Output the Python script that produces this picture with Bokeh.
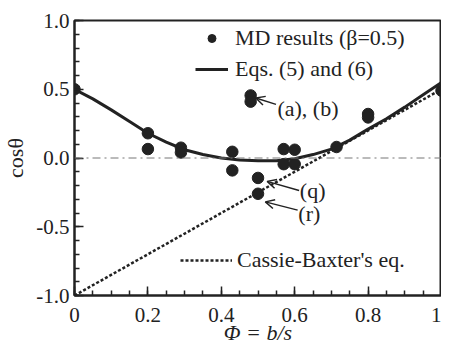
from bokeh.plotting import figure
from bokeh.models import (ColumnDataSource, Legend, LegendItem, FixedTicker, NumeralTickFormatter,
                          Span, Arrow, OpenHead)
from bokeh.core.properties import value
from bokeh.embed import file_html
from bokeh.resources import INLINE

# MD results (beta = 0.5)
md_x = [0.0, 0.2, 0.2, 0.29, 0.29, 0.43, 0.43, 0.48, 0.48, 0.5, 0.5,
        0.57, 0.57, 0.6, 0.6, 0.714, 0.8, 0.8, 1.0]
md_y = [0.50, 0.18, 0.065, 0.075, 0.04, 0.045, -0.09, 0.455, 0.41, -0.145, -0.26,
        0.065, -0.045, 0.06, -0.045, 0.08, 0.32, 0.295, 0.49]

# Eqs. (5) and (6)
eq_x = [0.0, 0.05, 0.1, 0.15, 0.2, 0.25, 0.3, 0.35, 0.4, 0.45, 0.5,
        0.55, 0.6, 0.65, 0.7, 0.75, 0.8, 0.85, 0.9, 0.95, 1.0]
eq_y = [0.50, 0.43, 0.35, 0.265, 0.18, 0.115, 0.06, 0.025, 0.0, -0.015, -0.02,
        -0.02, -0.005, 0.025, 0.065, 0.13, 0.21, 0.285, 0.37, 0.46, 0.55]

# Cassie-Baxter's eq.
cb_x = [0.0, 1.0]
cb_y = [-1.0, 0.5]

# annotations
ann_text = ["(a), (b)", "(q)", "(r)"]
ann_tx = [0.553, 0.614, 0.61]
ann_ty = [0.36, -0.235, -0.405]
arr_x0 = [0.549, 0.612, 0.608]
arr_y0 = [0.39, -0.237, -0.379]
arr_x1 = [0.494, 0.525, 0.520]
arr_y1 = [0.437, -0.170, -0.319]

x_ticks = [0, 0.2, 0.4, 0.6, 0.8, 1]
y_ticks = [-1.0, -0.5, 0.0, 0.5, 1.0]

FONT = "Liberation Serif"
INK = "#222222"

p = figure(width=441, height=347, x_range=(0, 1), y_range=(-1, 1),
           output_backend="svg", toolbar_location=None,
           min_border_left=72, min_border_right=0, min_border_top=20, min_border_bottom=10)
p.grid.visible = False
p.outline_line_color = INK
p.outline_line_width = 2
p.background_fill_color = "white"
p.border_fill_color = "white"

zero = Span(location=0, dimension="width", line_color="#777777", line_width=1,
            line_dash="8 4 2 4")
p.add_layout(zero)

cb = p.line(cb_x, cb_y, line_color=INK, line_width=2.5, line_dash="3 2")
eq = p.line(eq_x, eq_y, line_color=INK, line_width=3)
md = p.scatter(md_x, md_y, size=11.5, fill_color=INK, line_color=INK)

src = ColumnDataSource(dict(x0=arr_x0, y0=arr_y0, x1=arr_x1, y1=arr_y1))
p.add_layout(Arrow(end=OpenHead(size=9, line_width=1.5, line_color=INK),
                   x_start="x0", y_start="y0", x_end="x1", y_end="y1",
                   source=src, line_width=1.5, line_color=INK))
p.text(ann_tx, ann_ty, text=ann_text, text_font=value(FONT), text_font_size="22px",
       text_baseline="middle", text_align="left", text_color=INK)

for ax in (p.xaxis[0], p.yaxis[0]):
    ax.axis_line_width = 2
    ax.axis_line_color = INK
    ax.major_tick_line_color = INK
    ax.minor_tick_line_color = INK
    ax.major_tick_line_width = 1.5
    ax.minor_tick_line_width = 1.5
    ax.major_tick_in = 9
    ax.major_tick_out = 0
    ax.minor_tick_in = 5
    ax.minor_tick_out = 0
    ax.major_label_text_font = FONT
    ax.major_label_text_font_size = "21px"
    ax.major_label_text_color = INK
    ax.axis_label_text_font = FONT
    ax.axis_label_text_font_size = "22px"
    ax.axis_label_text_color = INK

p.xaxis.ticker = FixedTicker(ticks=x_ticks, minor_ticks=[i * 0.05 for i in range(21)])
p.xaxis.formatter = NumeralTickFormatter(format="0.0")
p.xaxis.major_label_overrides = {0: "0", 1: "1"}
p.xaxis.axis_label = "Φ = b/s"
p.xaxis.axis_label_text_font_style = "italic"
p.xaxis.major_label_standoff = 12
p.xaxis.axis_label_standoff = -5

p.yaxis.ticker = FixedTicker(ticks=y_ticks, minor_ticks=[i * 0.1 - 1 for i in range(21)])
p.yaxis.formatter = NumeralTickFormatter(format="0.0")
p.yaxis.axis_label = "cosθ"
p.yaxis.axis_label_text_font_style = "normal"
p.yaxis.major_label_standoff = 5

leg1 = Legend(items=[LegendItem(label="MD results (β=0.5)", renderers=[md]),
                     LegendItem(label="Eqs. (5) and (6)", renderers=[eq])],
              location=(121, 213), glyph_width=33, glyph_height=20, label_standoff=7,
              spacing=5, padding=4, margin=0,
              label_text_font=FONT, label_text_font_size="22px", label_text_color=INK,
              border_line_color=None, background_fill_alpha=0)
leg2 = Legend(items=[LegendItem(label="Cassie-Baxter's eq.", renderers=[cb])],
              location=(106, 22), glyph_width=52, glyph_height=20, label_standoff=5,
              padding=4, margin=0,
              label_text_font=FONT, label_text_font_size="22px", label_text_color=INK,
              border_line_color=None, background_fill_alpha=0)
p.add_layout(leg1)
p.add_layout(leg2)

open("out.html", "w").write(file_html(p, INLINE))
